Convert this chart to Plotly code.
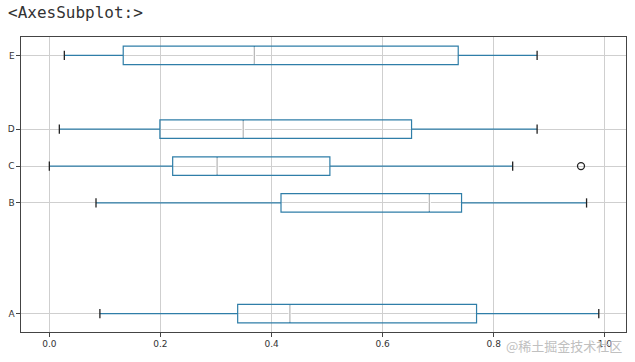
import plotly.graph_objects as go

categories = ["A", "B", "C", "D", "E"]
positions = [1, 4, 5, 6, 8]
lower = [0.091, 0.084, 0.0, 0.018, 0.027]
q1 = [0.339, 0.417, 0.222, 0.199, 0.133]
median = [0.433, 0.684, 0.302, 0.349, 0.369]
q3 = [0.769, 0.742, 0.505, 0.652, 0.736]
upper = [0.989, 0.967, 0.834, 0.878, 0.878]
outlier_x = [0.957]
outlier_y = [5]

box_color = "#2f7ea8"
half = 0.25

fig = go.Figure()
for i, c in enumerate(categories):
    fig.add_trace(go.Box(
        y=[positions[i]], q1=[q1[i]], median=[median[i]], q3=[q3[i]],
        lowerfence=[lower[i]], upperfence=[upper[i]],
        orientation="h", width=0.5, whiskerwidth=0,
        line=dict(color=box_color, width=1.2),
        fillcolor="rgba(0,0,0,0)", boxpoints=False, showlegend=False,
        hoverinfo="skip", name=c,
    ))

# medians (grey, drawn over the box's own median line)
mx, my = [], []
for i in range(len(categories)):
    mx += [median[i], median[i], None]
    my += [positions[i] - half + 0.03, positions[i] + half - 0.03, None]
fig.add_trace(go.Scatter(x=mx, y=my, mode="lines",
                         line=dict(color="white", width=3),
                         showlegend=False, hoverinfo="skip"))
fig.add_trace(go.Scatter(x=mx, y=my, mode="lines",
                         line=dict(color="#b5b5b5", width=1.2),
                         showlegend=False, hoverinfo="skip"))

# caps (black)
cx, cy = [], []
for i in range(len(categories)):
    for v in (lower[i], upper[i]):
        cx += [v, v, None]
        cy += [positions[i] - half / 2, positions[i] + half / 2, None]
fig.add_trace(go.Scatter(x=cx, y=cy, mode="lines",
                         line=dict(color="#222222", width=1.3),
                         showlegend=False, hoverinfo="skip"))

# outliers
fig.add_trace(go.Scatter(x=outlier_x, y=outlier_y, mode="markers",
                         marker=dict(symbol="circle-open", size=7,
                                     color="#222222", line=dict(width=1.3)),
                         showlegend=False, hoverinfo="skip"))

axis_common = dict(
    showline=True, linecolor="#444444", linewidth=1.2, mirror=True,
    ticks="outside", ticklen=3.5, tickcolor="#444444", automargin=False,
    showgrid=True, gridcolor="#cfcfcf", gridwidth=1, zeroline=False,
    tickfont=dict(family="DejaVu Sans", size=9, color="#333333"),
)

W, H = 635, 362
L, R, T, B = 21, 9, 37, 30
fig.update_layout(
    width=W, height=H,
    margin=dict(l=L, r=R, t=T, b=B, autoexpand=False),
    paper_bgcolor="white", plot_bgcolor="white",
    xaxis=dict(range=[-0.051, 1.038], tickvals=[0, 0.2, 0.4, 0.6, 0.8, 1.0],
               ticktext=["0.0", "0.2", "0.4", "0.6", "0.8", "1.0"], **axis_common),
    yaxis=dict(range=[0.5, 8.5], tickvals=positions, ticktext=categories,
               **axis_common),
)
pw, ph = W - L - R, H - T - B


def px(x, y):
    return (x - L) / pw, 1 - (y - T) / ph


ax, ay = px(6, 13)
wx, wy = px(624, 345)
fig.add_annotation(text="&lt;AxesSubplot:&gt;", x=ax, y=ay, xref="paper", yref="paper",
                   showarrow=False, xanchor="left", yanchor="middle",
                   font=dict(family="DejaVu Sans Mono", size=16, color="#333333"))
fig.add_annotation(text="@稀土掘金技术社区", x=wx, y=wy, xref="paper", yref="paper",
                   showarrow=False, xanchor="right", yanchor="middle",
                   font=dict(family="Noto Sans CJK SC", size=13, color="#c0c0c0"))

fig.write_html("out.html", config={"displayModeBar": False},
               post_script="document.body.style.margin='0';document.body.style.overflow='hidden';")
